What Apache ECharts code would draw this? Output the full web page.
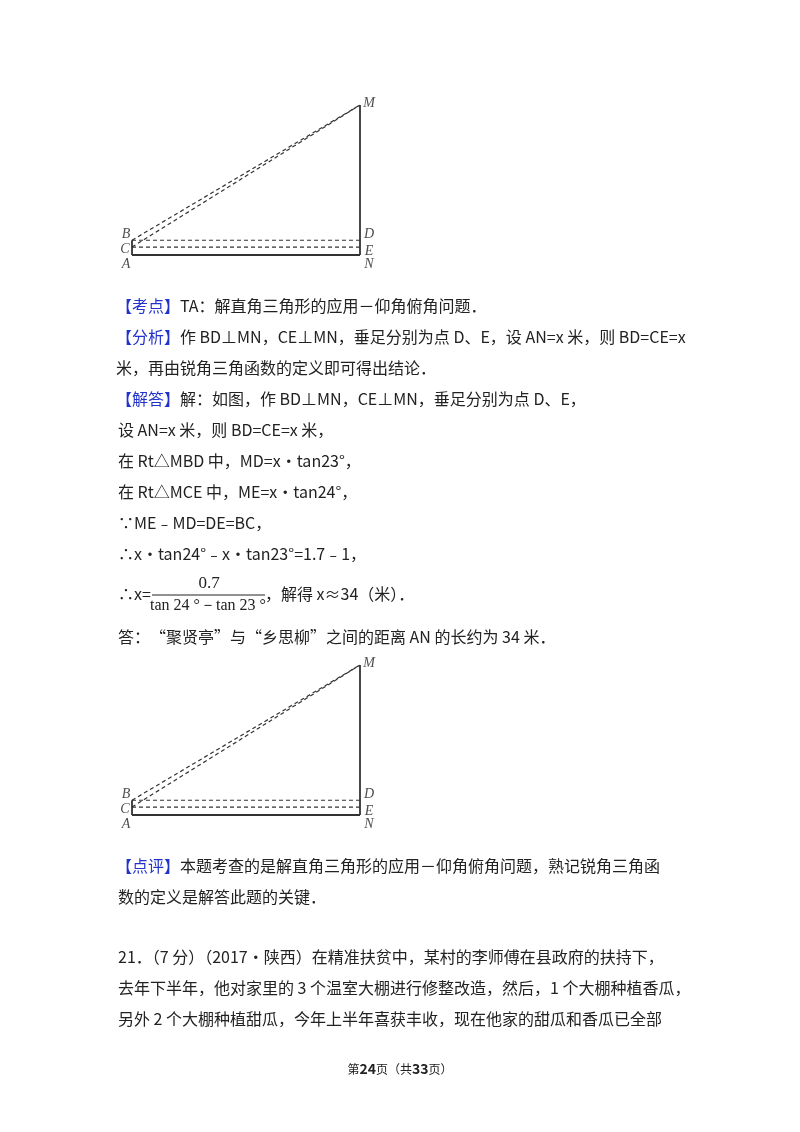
<!DOCTYPE html><html><head><meta charset="utf-8">
<script src="https://cdn.jsdelivr.net/npm/echarts@6/dist/echarts.min.js"></script>
<style>html,body{margin:0;background:#fff}#c{width:800px;height:1132px}</style></head><body><div id="c"></div>
<script>
// figure points (figure units): A, N, M, B, C, D, E
const pointNames = ['A','N','M','B','C','D','E'];
const pointX = [0,100,100,0,0,100,100];
const pointY = [0,0,66,6.5,3.5,6.5,3.5];
const solidSegs = [['A','N'],['N','M'],['A','B']];
const dashSegs = [['B','M'],['C','M'],['B','D'],['C','E']];
const labelOffsets = {A:[-6,9],N:[9,9],M:[9,-2],B:[-6,-6],C:[-7,2],D:[9,-6],E:[9,4]};
const P = n => [pointX[pointNames.indexOf(n)], pointY[pointNames.indexOf(n)]];
const chart = echarts.init(document.getElementById('c'));
const grids=[{left:132,top:105,width:228,height:150},{left:132,top:665,width:228,height:150}];
const series=[];
grids.forEach((g,gi)=>{
  solidSegs.forEach(s=>series.push({type:'line',xAxisIndex:gi,yAxisIndex:gi,data:s.map(P),symbol:'none',lineStyle:{color:'#333',width:1.8},silent:true}));
  dashSegs.forEach(s=>series.push({type:'line',xAxisIndex:gi,yAxisIndex:gi,data:s.map(P),symbol:'none',lineStyle:{color:'#333',width:1.2,type:[4,3]},silent:true}));
  series.push({type:'scatter',xAxisIndex:gi,yAxisIndex:gi,symbolSize:0,data:pointNames.map(n=>({value:P(n),label:{show:true,formatter:n,position:'inside',offset:labelOffsets[n],fontFamily:'Liberation Serif',fontStyle:'italic',fontSize:14,color:'#222'}}))});
});
const F='Noto Sans CJK SC', C='#222', B='#2233cc';
const texts=[];
function t(x,y,s,opt){texts.push(Object.assign({type:'text',x:x,y:y,style:{text:s,fill:C,font:'16px "'+F+'"',textVerticalAlign:'middle',rich:{b:{fill:B,fontSize:16,fontFamily:F}}}},opt||{}));}
t(116,306,'{b|【考点】}TA：解直角三角形的应用－仰角俯角问题．');
t(116,337,'{b|【分析】}作 BD⊥MN，CE⊥MN，垂足分别为点 D、E，设 AN=x 米，则 BD=CE=x');
t(116,368,'米，再由锐角三角函数的定义即可得出结论．');
t(116,399,'{b|【解答】}解：如图，作 BD⊥MN，CE⊥MN，垂足分别为点 D、E，');
t(118,430,'设 AN=x 米，则 BD=CE=x 米，');
t(118,461,'在 Rt△MBD 中，MD=x•tan23°，');
t(118,492,'在 Rt△MCE 中，ME=x•tan24°，');
t(118,523,'∵ME﹣MD=DE=BC，');
t(118,554,'∴x•tan24°﹣x•tan23°=1.7﹣1，');
t(118,594,'∴x=');
t(209,584,'0.7',{style:{text:'0.7',fill:C,font:'17px "Liberation Serif"',textAlign:'center',textVerticalAlign:'middle'}});
texts.push({type:'line',shape:{x1:152,y1:595,x2:265,y2:595},style:{stroke:C,lineWidth:1}});
t(208,606,'tan 24 °－tan 23 °',{style:{text:'tan 24 °－tan 23 °',fill:C,font:'16px "Liberation Serif"',textAlign:'center',textVerticalAlign:'middle'}});
t(265,594,'，解得 x≈34（米）．');
t(118,637,'答：“聚贤亭”与“乡思柳”之间的距离 AN 的长约为 34 米．');
t(116,866,'{b|【点评】}本题考查的是解直角三角形的应用－仰角俯角问题，熟记锐角三角函');
t(118,897,'数的定义是解答此题的关键．');
t(118,957,'21．（7 分）（2017•陕西）在精准扶贫中，某村的李师傅在县政府的扶持下，');
t(118,988,'去年下半年，他对家里的 3 个温室大棚进行修整改造，然后，1 个大棚种植香瓜，');
t(118,1019,'另外 2 个大棚种植甜瓜，今年上半年喜获丰收，现在他家的甜瓜和香瓜已全部');
texts.push({type:'text',x:400,y:1069,style:{text:'第{n|24}页（共{n|33}页）',fill:C,font:'12px "'+F+'"',textAlign:'center',textVerticalAlign:'middle',rich:{n:{fontWeight:'bold',fontSize:14,fontFamily:F}}}});
chart.setOption({animation:false,grid:grids,
 xAxis:grids.map((g,i)=>({type:'value',gridIndex:i,min:0,max:100,show:false})),
 yAxis:grids.map((g,i)=>({type:'value',gridIndex:i,min:0,max:66,show:false})),
 series:series,graphic:texts});
</script></body></html>
